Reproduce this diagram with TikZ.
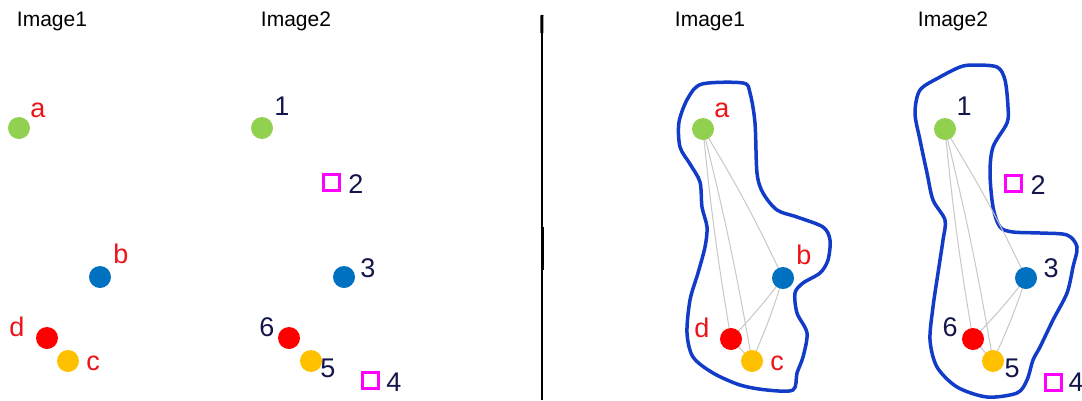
\documentclass[tikz,border=0pt]{standalone}
\usepackage{fontspec}
\setmainfont{Liberation Sans}
\definecolor{dgreen}{RGB}{146,208,80}
\definecolor{dblue}{RGB}{0,112,192}
\definecolor{dred}{RGB}{255,0,0}
\definecolor{dyellow}{RGB}{255,192,0}
\definecolor{lred}{RGB}{235,20,25}
\definecolor{navy}{RGB}{20,22,75}
\definecolor{mag}{RGB}{255,0,255}
\definecolor{blob}{RGB}{18,60,200}
\definecolor{gline}{RGB}{200,200,200}
\tikzset{
  dot/.style={circle,fill=#1,minimum size=22pt,inner sep=0pt},
  sq/.style={draw=mag,line width=3pt,minimum size=16pt,inner sep=0pt},
  lbl/.style={font=\fontsize{27}{29}\selectfont,text=lred,inner sep=0pt},
  num/.style={font=\fontsize{27}{29}\selectfont,text=navy,inner sep=0pt},
  ttl/.style={font=\fontsize{21}{24}\selectfont,text=black,inner sep=0pt},
  gl/.style={draw=gline,line width=1pt},
  blobline/.style={draw=blob,line width=3.5pt,line join=round}
}
\begin{document}
\begin{tikzpicture}[x=1pt,y=-1pt]
\useasboundingbox[fill=white] (0,0) rectangle (1082,400);
% titles
\node[ttl] (t1) at (52,21) {Image1};
\node[ttl] (t2) at (296,21) {Image2};
\node[ttl] (t3) at (710,21) {Image1};
\node[ttl] (t4) at (953,21) {Image2};
% separator
\coordinate (s1) at (542,15);
\coordinate (s2) at (542,400);
\draw[line width=1.8pt] (s1) -- (s2);
\coordinate (s3) at (541.8,33);
\draw[line width=3pt] (s1) -- (s3);
\coordinate (s4) at (542.6,227);
\coordinate (s5) at (542.6,270);
\draw[line width=3pt] (s4) -- (s5);
% left panel image1
\node[dot=dgreen] (a) at (19,128) {};
\node[dot=dblue] (b) at (100,277) {};
\node[dot=dred] (d) at (47,338) {};
\node[dot=dyellow] (c) at (68,361) {};
\node[lbl] (la) at (38,110) {a};
\node[lbl] (lb) at (121,254) {b};
\node[lbl] (ld) at (17,327) {d};
\node[lbl] (lc) at (93,363) {c};
% left panel image2
\node[dot=dgreen] (n1) at (262,128) {};
\node[sq] (n2) at (331,182) {};
\node[dot=dblue] (n3) at (344,277) {};
\node[sq] (n4) at (370,380) {};
\node[dot=dyellow] (n5) at (311,361) {};
\node[dot=dred] (n6) at (289,338) {};
\node[num] (l1) at (282,106) {1};
\node[num] (l2) at (356,184) {2};
\node[num] (l3) at (368,268) {3};
\node[num] (l4) at (394,382) {4};
\node[num] (l5) at (328,368) {5};
\node[num] (l6) at (267,327) {6};
% right panel blobs
\draw[blobline] plot[smooth cycle,tension=0.5] coordinates {
(702,84) (743,83) (750,93) (755,123) (757,173) (763,193) (777,210) (797,217)
(823,227) (830,240) (828,260) (820,273) (803,283) (795,293) (797,313) (807,333)
(803,357) (797,373) (793,390) (767,390) (740,385) (713,373) (693,357) (687,333)
(690,300) (698,273) (705,247) (707,227) (702,207) (700,182) (690,164) (680,147)
(679,122) (688,98)};
\draw[blobline] plot[smooth cycle,tension=0.5] coordinates {
(973,65) (997,67) (1005,80) (1008,107) (1007,123) (993,147) (990,173) (993,207)
(1000,227) (1013,232) (1040,233) (1067,235) (1077,247) (1073,267) (1067,293)
(1053,320) (1040,347) (1033,360) (1027,380) (1017,393) (987,397) (957,387)
(937,367) (930,340) (933,307) (938,273) (943,240) (945,220) (933,200) (927,173)
(920,140) (915,113) (920,90) (940,77) (960,67)};
% gray connectors
\coordinate (ra0) at (703,129);
\coordinate (rb0) at (783,278);
\coordinate (rd0) at (731,339);
\coordinate (rc0) at (752,361);
\coordinate (r10) at (945,129);
\coordinate (r30) at (1026,278);
\coordinate (r50) at (993,361);
\coordinate (r60) at (973,339);
\draw[gl] (ra0) to[bend right=2] (rd0);
\draw[gl] (ra0) to[bend left=2] (rc0);
\draw[gl] (ra0) to[bend left=3] (rb0);
\draw[gl] (rb0) to[bend left=3] (rd0);
\draw[gl] (rb0) to[bend left=3] (rc0);
\draw[gl] (rd0) -- (rc0);
\draw[gl] (r10) to[bend right=2] (r60);
\draw[gl] (r10) to[bend left=2] (r50);
\draw[gl] (r10) to[bend left=3] (r30);
\draw[gl] (r30) to[bend left=3] (r60);
\draw[gl] (r30) to[bend left=3] (r50);
\draw[gl] (r60) -- (r50);
% right panel image1
\node[dot=dgreen] (ra) at (ra0) {};
\node[dot=dblue] (rb) at (rb0) {};
\node[dot=dred] (rd) at (rd0) {};
\node[dot=dyellow] (rc) at (rc0) {};
\node[lbl] (rla) at (722,110) {a};
\node[lbl] (rlb) at (804,255) {b};
\node[lbl] (rld) at (702,328) {d};
\node[lbl] (rlc) at (777,363) {c};
% right panel image2
\node[dot=dgreen] (r1) at (r10) {};
\node[sq] (r2) at (1013,183) {};
\node[dot=dblue] (r3) at (r30) {};
\node[sq] (r4) at (1053,382) {};
\node[dot=dyellow] (r5) at (r50) {};
\node[dot=dred] (r6) at (r60) {};
\node[num] (rl1) at (964,106) {1};
\node[num] (rl2) at (1038,185) {2};
\node[num] (rl3) at (1051,268) {3};
\node[num] (rl4) at (1076,382) {4};
\node[num] (rl5) at (1012,368) {5};
\node[num] (rl6) at (950,327) {6};
\end{tikzpicture}
\end{document}
